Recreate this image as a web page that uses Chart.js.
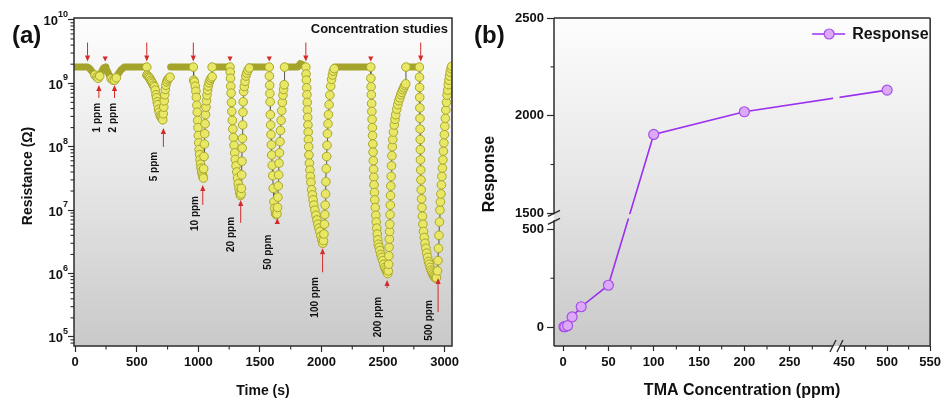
<!DOCTYPE html>
<html>
<head>
<meta charset="utf-8">
<script src="https://cdn.jsdelivr.net/npm/chart.js@4.4.1/dist/chart.umd.min.js"></script>
<style>
  body { margin: 0; background: #fff; width: 945px; height: 401px; overflow: hidden; position: relative; }
  canvas { position: absolute; top: 0; }
  #chartA { left: 0; }
  #chartB { left: 470px; }
</style>
</head>
<body>
<canvas id="chartA" width="470" height="401"></canvas>
<canvas id="chartB" width="475" height="401"></canvas>
<script>
// --- 1. DATA ---

// (a) baseline band, [time s, resistance ohm], null = break
const baseline = [
  [0, 1.8e9], [100, 1.8e9], [114, 1.74e9], [140, 1.5e9], [168, 1.29e9], [187, 1.2e9], [208, 1.45e9],
  [230, 1.74e9], [243, 1.8e9], [249, 1.74e9], [276, 1.35e9], [303, 1.12e9], [322, 1.12e9], [343, 1.35e9],
  [371, 1.62e9], [398, 1.8e9], [581, 1.8e9], null,
  [775, 1.8e9], [959, 1.8e9], null,
  [1112, 1.8e9], [1257, 1.8e9], null,
  [1414, 1.8e9], [1576, 1.8e9], null,
  [1700, 1.8e9], [1806, 1.8e9], [1828, 2.05e9], [1850, 1.95e9], [1873, 1.8e9], null,
  [2108, 1.8e9], [2400, 1.8e9], null,
  [2686, 1.8e9], [2795, 1.8e9]
];

// (a) exposure cycles
const dip1ppm = [[160, 1.35e9], [175, 1.25e9], [187, 1.2e9], [199, 1.3e9]];
const dip2ppm = [[292, 1.18e9], [306, 1.12e9], [320, 1.12e9], [334, 1.22e9]];
const dip5ppm = [
  [581, 1.8e9], [582, 1.35e9], [590, 1.3e9], [598, 1.25e9], [606, 1.2e9], [613, 1.12e9], [620, 1.06e9],
  [628, 1.0e9], [636, 9.3e8], [644, 8.8e8], [650, 7.8e8], [656, 6.6e8], [661, 5.9e8], [666, 5.1e8],
  [671, 4.6e8], [677, 3.9e8], [683, 3.5e8], [690, 3.1e8], [697, 2.95e8], [704, 2.8e8], [711, 2.65e8],
  [715, 3.3e8], [719, 4.2e8], [723, 5.3e8], [727, 6.6e8], [731, 8e8], [736, 9.3e8], [742, 1.05e9],
  [750, 1.13e9], [760, 1.2e9], [770, 1.25e9]
];
const dip10ppm = [
  [959, 1.8e9], [962, 1.12e9], [968, 1.05e9], [975, 9e8], [980, 7.5e8], [984, 6e8], [988, 4.5e8],
  [991, 3.5e8], [994, 2.6e8], [997, 2e8], [1000, 1.5e8], [1003, 1.15e8], [1006, 9e7], [1010, 7.5e7],
  [1014, 6.2e7], [1018, 5.3e7], [1022, 4.6e7], [1027, 4.1e7], [1032, 3.7e7], [1037, 3.4e7], [1041, 3.2e7],
  [1043, 4.5e7], [1046, 7e7], [1049, 1.1e8], [1052, 1.6e8], [1055, 2.3e8], [1058, 3.2e8], [1062, 4.2e8],
  [1066, 5.3e8], [1070, 6.5e8], [1075, 7.8e8], [1080, 9e8], [1087, 1.02e9], [1095, 1.12e9], [1103, 1.2e9],
  [1112, 1.27e9], [1112, 1.8e9]
];
const dip20ppm = [
  [1257, 1.8e9], [1259, 1.5e9], [1261, 1.2e9], [1263, 9e8], [1266, 7e8], [1269, 5e8], [1272, 3.6e8],
  [1276, 2.6e8], [1280, 1.9e8], [1285, 1.4e8], [1290, 1.05e8], [1295, 8e7], [1300, 6.3e7], [1306, 5e7],
  [1312, 4e7], [1318, 3.2e7], [1324, 2.6e7], [1330, 2.2e7], [1336, 1.9e7], [1342, 1.7e7], [1347, 1.8e7],
  [1350, 2.2e7], [1352, 3.6e7], [1354, 5.9e7], [1356, 9.5e7], [1358, 1.35e8], [1360, 2.2e8], [1362, 3.5e8],
  [1364, 5.1e8], [1368, 7.4e8], [1373, 8.9e8], [1379, 1.07e9], [1386, 1.3e9], [1393, 1.45e9], [1403, 1.6e9],
  [1414, 1.74e9]
];
const dip50ppm = [
  [1576, 1.8e9], [1577, 1.3e9], [1579, 9.3e8], [1581, 6.9e8], [1583, 5.1e8], [1585, 3.2e8], [1587, 2.2e8],
  [1590, 1.55e8], [1593, 1.07e8], [1596, 7.4e7], [1600, 5.1e7], [1604, 3.5e7], [1608, 2.2e7], [1614, 1.35e7],
  [1620, 1.07e7], [1626, 8.9e6], [1632, 8.5e6], [1638, 8.7e6], [1643, 1.1e7], [1646, 1.6e7], [1649, 2.4e7],
  [1652, 3.6e7], [1655, 5.5e7], [1659, 8e7], [1663, 1.2e8], [1667, 1.8e8], [1672, 2.6e8], [1677, 3.7e8],
  [1682, 5e8], [1687, 6.5e8], [1692, 8e8], [1697, 9.5e8], [1700, 1.8e9]
];
const dip100ppm = [
  [1873, 1.8e9], [1875, 1.4e9], [1877, 1.12e9], [1880, 8.5e8], [1882, 6.6e8], [1884, 5e8], [1886, 3.8e8],
  [1888, 2.9e8], [1890, 2.2e8], [1892, 1.7e8], [1894, 1.3e8], [1896, 1e8], [1898, 7.4e7], [1902, 5.5e7],
  [1906, 4.3e7], [1910, 3.4e7], [1914, 2.75e7], [1920, 2.1e7], [1926, 1.74e7], [1932, 1.45e7], [1938, 1.2e7],
  [1946, 1e7], [1955, 8.3e6], [1963, 7e6], [1971, 6e6], [1979, 5.2e6], [1987, 4.6e6], [1995, 3.9e6],
  [2003, 3.4e6], [2011, 3e6], [2016, 3.3e6], [2020, 4.2e6], [2024, 6e6], [2027, 8.5e6], [2030, 1.2e7],
  [2033, 1.8e7], [2036, 2.8e7], [2039, 4.5e7], [2042, 7e7], [2045, 1.05e8], [2049, 1.6e8], [2053, 2.3e8],
  [2057, 3.2e8], [2062, 4.6e8], [2068, 6.5e8], [2075, 9e8], [2082, 1.15e9], [2089, 1.35e9], [2096, 1.55e9],
  [2104, 1.7e9]
];
const dip200ppm = [
  [2400, 1.8e9], [2401, 1.2e9], [2403, 8.8e8], [2405, 6.6e8], [2407, 4.8e8], [2409, 3.6e8], [2411, 2.7e8],
  [2413, 2e8], [2415, 1.5e8], [2417, 1.1e8], [2419, 8.2e7], [2421, 6e7], [2423, 4.4e7], [2425, 3.3e7],
  [2427, 2.5e7], [2430, 1.9e7], [2433, 1.45e7], [2437, 1.1e7], [2441, 8.3e6], [2445, 6.5e6], [2449, 5.2e6],
  [2453, 4.2e6], [2457, 3.4e6], [2462, 2.9e6], [2468, 2.6e6], [2474, 2.3e6], [2482, 2e6], [2490, 1.8e6],
  [2498, 1.6e6], [2506, 1.4e6], [2514, 1.25e6], [2522, 1.15e6], [2530, 1.07e6], [2538, 1e6], [2542, 1.1e6],
  [2545, 1.4e6], [2547, 1.9e6], [2549, 2.6e6], [2551, 3.5e6], [2553, 4.6e6], [2555, 6e6], [2557, 8.5e6],
  [2559, 1.2e7], [2561, 1.7e7], [2563, 2.4e7], [2566, 3.4e7], [2569, 5e7], [2572, 7.2e7], [2575, 1e8],
  [2579, 1.3e8], [2585, 1.7e8], [2591, 2.2e8], [2597, 2.7e8], [2603, 3.2e8], [2611, 3.9e8], [2620, 4.6e8],
  [2628, 5.3e8], [2636, 5.9e8], [2644, 6.6e8], [2652, 7.2e8], [2660, 7.9e8], [2668, 8.5e8], [2676, 9.2e8],
  [2684, 9.8e8], [2686, 1.8e9]
];
const dip500ppm = [
  [2795, 1.8e9], [2796, 1.25e9], [2797, 8.6e8], [2798, 6e8], [2799, 4.1e8], [2800, 2.8e8], [2801, 1.9e8],
  [2802, 1.3e8], [2803, 9e7], [2804, 6.2e7], [2806, 4.3e7], [2808, 3e7], [2810, 2.1e7], [2813, 1.5e7],
  [2816, 1.1e7], [2820, 8e6], [2824, 6e6], [2829, 4.6e6], [2835, 3.7e6], [2841, 3e6], [2848, 2.5e6],
  [2855, 2.1e6], [2862, 1.8e6], [2869, 1.55e6], [2876, 1.4e6], [2883, 1.25e6], [2890, 1.13e6], [2897, 1.05e6],
  [2904, 9.8e5], [2911, 9.2e5], [2918, 8.8e5], [2926, 8.5e5], [2934, 8.6e5], [2942, 1.1e6], [2946, 1.6e6],
  [2950, 2.5e6], [2954, 4e6], [2958, 6.5e6], [2962, 1e7], [2966, 1.35e7], [2970, 1.8e7], [2974, 2.5e7],
  [2978, 3.4e7], [2982, 4.6e7], [2986, 6.2e7], [2990, 8.5e7], [2994, 1.15e8], [2998, 1.55e8], [3002, 2.1e8],
  [3006, 2.8e8], [3010, 3.8e8], [3015, 5e8], [3020, 6.5e8], [3025, 7.8e8], [3030, 9.5e8], [3035, 1.12e9],
  [3040, 1.3e9], [3046, 1.5e9], [3052, 1.7e9], [3058, 1.85e9]
];
const allDips = [dip1ppm, dip2ppm, dip5ppm, dip10ppm, dip20ppm, dip50ppm, dip100ppm, dip200ppm, dip500ppm];

// (a) axis ticks
const timeTicks = [0, 500, 1000, 1500, 2000, 2500, 3000];
const timeMinorTicks = [250, 750, 1250, 1750, 2250, 2750];
const decadeExponents = [5, 6, 7, 8, 9, 10];

// (a) annotations: gas-in (down) / gas-out (up) markers and concentration labels
const gasInTimes = [100, 243, 581, 959, 1257, 1576, 1873, 2400, 2806];
const gasInLong = [true, false, true, true, false, false, true, false, true];
const gasOutTimes = [192, 319, 716, 1036, 1344, 1641, 2009, 2533, 2947];
const gasOutTipRes = [9.4e8, 9.4e8, 1.98e8, 2.5e7, 1.45e7, 7.5e6, 2.5e6, 7.9e5, 8.5e5];
const gasOutLen = [13, 13, 19, 20, 23, 6, 24, 8, 34];
const ppmLabels = ['1 ppm', '2 ppm', '5 ppm', '10 ppm', '20 ppm', '50 ppm', '100 ppm', '200 ppm', '500 ppm'];
const ppmLabelTimes = [176, 311, 641, 973, 1271, 1568, 1946, 2460, 2879];
const ppmLabelTopRes = [4.9e8, 4.9e8, 8.3e7, 1.67e7, 7.8e6, 4.1e6, 8.8e5, 4.3e5, 3.8e5];

// (b) response vs TMA concentration
const concentrationPpm = [1, 2, 5, 10, 20, 50, 100, 200, 500];
const responseValues = [1.5, 1.7, 7, 52, 104, 214, 1904, 2020, 2131];
const concTicks = [0, 50, 100, 150, 200, 250, 450, 500, 550];
const concMinorTicks = [25, 75, 125, 175, 225, 275, 475, 525];
const respTicks = [0, 500, 1500, 2000, 2500];
const respMinorTicks = [250, 1750, 2250];

// --- 2. HELPERS ---
Chart.defaults.font.family = '"Liberation Sans", Arial, Helvetica, sans-serif';
Chart.defaults.color = '#111';
Chart.defaults.animation = false;

const FRAME = '#2b2b2b';
const RED = '#d42a2a';

// broken axes of panel (b): 300..450 ppm and 500..1500 removed
function mapConc(v) { return v <= 300 ? v : 310 + (v - 450) * 0.95; }
function mapResp(v) { return v <= 500 ? v : v - 918; }

function toXY(rows) {
  const out = [];
  let lastX = 0;
  rows.forEach(r => {
    if (r) { out.push({ x: r[0], y: r[1] }); lastX = r[0]; }
    else out.push({ x: lastX, y: null });
  });
  return out;
}

function plotGradient(ctx, a) {
  const g = ctx.createLinearGradient(0, a.top, 0, a.bottom);
  g.addColorStop(0, '#fdfdfd');
  g.addColorStop(0.5, '#e6e6e6');
  g.addColorStop(1, '#c9c9c9');
  return g;
}

const plotBackground = {
  id: 'plotBackground',
  beforeDraw(chart) {
    const { ctx, chartArea: a } = chart;
    ctx.save();
    ctx.fillStyle = plotGradient(ctx, a);
    ctx.fillRect(a.left, a.top, a.right - a.left, a.bottom - a.top);
    ctx.restore();
  }
};

function line(ctx, x1, y1, x2, y2) {
  ctx.beginPath(); ctx.moveTo(x1, y1); ctx.lineTo(x2, y2); ctx.stroke();
}

function verticalText(ctx, text, x, y, font, align) {
  ctx.save();
  ctx.translate(x, y);
  ctx.rotate(-Math.PI / 2);
  ctx.font = font;
  ctx.textAlign = align || 'center';
  ctx.textBaseline = 'middle';
  ctx.fillText(text, 0, 0);
  ctx.restore();
}

function drawArrow(ctx, x, tipY, len, dir) {
  // dir 1 = pointing down, -1 = pointing up
  const head = Math.min(6, len), half = 2.6;
  if (len > head) line(ctx, x, tipY - dir * len, x, tipY - dir * head);
  ctx.beginPath();
  ctx.moveTo(x, tipY);
  ctx.lineTo(x - half, tipY - dir * head);
  ctx.lineTo(x + half, tipY - dir * head);
  ctx.closePath();
  ctx.fill();
}

// --- 3. PANEL (a) ---
const traceRows = [];
allDips.forEach((d, i) => { if (i) traceRows.push(null); d.forEach(r => traceRows.push(r)); });

const panelADecor = {
  id: 'panelADecor',
  afterDatasetsDraw(chart) {
    const { ctx, scales: { x, y } } = chart;
    ctx.save();
    ctx.strokeStyle = RED; ctx.fillStyle = RED; ctx.lineWidth = 1;
    const tipIn = y.getPixelForValue(2.2e9);
    gasInTimes.forEach((t, i) => drawArrow(ctx, x.getPixelForValue(t), tipIn, gasInLong[i] ? 19 : 5, 1));
    gasOutTimes.forEach((t, i) => drawArrow(ctx, x.getPixelForValue(t), y.getPixelForValue(gasOutTipRes[i]), gasOutLen[i], -1));
    ctx.fillStyle = '#111';
    ppmLabels.forEach((txt, i) => verticalText(ctx, txt, x.getPixelForValue(ppmLabelTimes[i]), y.getPixelForValue(ppmLabelTopRes[i]), 'bold 10px "Liberation Sans", Arial, sans-serif', 'right'));
    ctx.restore();
  },
  afterDraw(chart) {
    const { ctx, chartArea: a, scales: { x, y } } = chart;
    ctx.save();
    ctx.strokeStyle = FRAME; ctx.lineWidth = 1.5;
    ctx.strokeRect(a.left, a.top, a.right - a.left, a.bottom - a.top);
    ctx.lineWidth = 1.1;
    timeMinorTicks.forEach(v => { const px = x.getPixelForValue(v); line(ctx, px, a.bottom, px, a.bottom + 3.5); });
    decadeExponents.concat([4]).forEach(e => {
      for (let m = 2; m <= 9; m++) {
        const v = m * Math.pow(10, e);
        if (v > y.min && v < y.max) { const py = y.getPixelForValue(v); line(ctx, a.left - 3.5, py, a.left, py); }
      }
    });
    // 10^n labels
    ctx.fillStyle = '#111';
    ctx.textBaseline = 'alphabetic';
    ctx.textAlign = 'right';
    decadeExponents.forEach(e => {
      const py = y.getPixelForValue(Math.pow(10, e));
      ctx.font = 'bold 9px "Liberation Sans", Arial, sans-serif';
      const w = ctx.measureText(String(e)).width;
      ctx.fillText(String(e), a.left - 6, py - 3);
      ctx.font = 'bold 13px "Liberation Sans", Arial, sans-serif';
      ctx.fillText('10', a.left - 6 - w, py + 5.5);
    });
    verticalText(ctx, 'Resistance (\u03a9)', 28, (a.top + a.bottom) / 2 - 6, 'bold 14px "Liberation Sans", Arial, sans-serif');
    ctx.font = 'bold 24px "Liberation Sans", Arial, sans-serif';
    ctx.textAlign = 'left';
    ctx.fillText('(a)', 12, 43);
    ctx.font = 'bold 13px "Liberation Sans", Arial, sans-serif';
    ctx.textAlign = 'right';
    ctx.textBaseline = 'middle';
    ctx.fillText('Concentration studies', a.right - 4, a.top + 11);
    ctx.restore();
  }
};

new Chart(document.getElementById('chartA'), {
  type: 'scatter',
  data: {
    datasets: [
      {
        label: 'Baseline', data: toXY(baseline), showLine: true, order: 2,
        borderColor: '#a4a32a', borderWidth: 7, borderCapStyle: 'round', borderJoinStyle: 'round',
        pointRadius: 0, spanGaps: false
      },
      {
        label: 'Resistance', data: toXY(traceRows), showLine: true, order: 1,
        borderColor: '#555', borderWidth: 1, spanGaps: false,
        pointRadius: 4.3, pointBackgroundColor: '#e8e866', pointBorderColor: '#a8a72c', pointBorderWidth: 1
      }
    ]
  },
  options: {
    responsive: false,
    layout: { padding: { top: 18, right: 18, left: 0, bottom: 0 } },
    plugins: { legend: { display: false }, tooltip: { enabled: false } },
    scales: {
      x: {
        type: 'linear', min: -10, max: 3060,
        afterBuildTicks: s => { s.ticks = timeTicks.map(v => ({ value: v })); },
        afterFit: s => { s.height = 55; },
        border: { display: false },
        grid: { drawOnChartArea: false, tickLength: 6, color: FRAME, tickWidth: 1.2 },
        ticks: { callback: (v, i) => String(timeTicks[i]), font: { size: 13, weight: 'bold' }, color: '#111', padding: 3, maxRotation: 0, autoSkip: false },
        title: { display: true, text: 'Time (s)', font: { size: 14, weight: 'bold' }, color: '#111', padding: { top: 0, bottom: 1 } }
      },
      y: {
        type: 'logarithmic', min: 7.2e4, max: 1.07e10,
        afterBuildTicks: s => { s.ticks = decadeExponents.map(e => ({ value: Math.pow(10, e), major: true })); },
        afterFit: s => { s.width = 74; },
        border: { display: false },
        grid: { drawOnChartArea: false, tickLength: 6, color: FRAME, tickWidth: 1.2 },
        ticks: { display: false }
      }
    }
  },
  plugins: [plotBackground, panelADecor]
});

// --- 4. PANEL (b) ---
const panelBDecor = {
  id: 'panelBDecor',
  afterDatasetsDraw(chart) {
    // cut the response line where it crosses the axis breaks
    const { ctx, chartArea: a, scales: { x, y } } = chart;
    ctx.save();
    ctx.fillStyle = plotGradient(ctx, a);
    const y1 = y.getPixelForValue(578), y2 = y.getPixelForValue(556);
    ctx.fillRect(a.left + 1, y1, a.right - a.left - 2, y2 - y1);
    const x1 = x.getPixelForValue(298), x2 = x.getPixelForValue(305);
    ctx.fillRect(x1, a.top + 1, x2 - x1, a.bottom - a.top - 2);
    ctx.restore();
  },
  afterDraw(chart) {
    const { ctx, chartArea: a, scales: { x, y } } = chart;
    ctx.save();
    ctx.strokeStyle = FRAME; ctx.lineWidth = 1.5;
    const yb = y.getPixelForValue(mapResp(1500));
    const xb = x.getPixelForValue(300);
    line(ctx, a.left, a.top, a.right, a.top);
    line(ctx, a.right, a.top, a.right, a.bottom);
    line(ctx, a.left, a.bottom, xb - 2, a.bottom);
    line(ctx, xb + 5, a.bottom, a.right, a.bottom);
    line(ctx, a.left, a.top, a.left, yb + 1);
    line(ctx, a.left, yb + 7, a.left, a.bottom);
    // break marks
    ctx.lineWidth = 1.3;
    [yb, yb + 8].forEach(cy => line(ctx, a.left - 6, cy + 3, a.left + 6, cy - 3));
    [xb - 2, xb + 5].forEach(cx => line(ctx, cx - 3, a.bottom + 6, cx + 3, a.bottom - 6));
    // minor ticks
    ctx.lineWidth = 1.1;
    concMinorTicks.forEach(v => { const px = x.getPixelForValue(mapConc(v)); line(ctx, px, a.bottom, px, a.bottom + 3.5); });
    respMinorTicks.forEach(v => { const py = y.getPixelForValue(mapResp(v)); line(ctx, a.left - 3.5, py, a.left, py); });
    // titles
    ctx.fillStyle = '#111';
    verticalText(ctx, 'Response', 20, (a.top + a.bottom) / 2 - 8, 'bold 16px "Liberation Sans", Arial, sans-serif');
    ctx.font = 'bold 24px "Liberation Sans", Arial, sans-serif';
    ctx.textAlign = 'left'; ctx.textBaseline = 'alphabetic';
    ctx.fillText('(b)', 4, 43);
    // legend
    const ly = a.top + 16, lx = a.right - 118;
    ctx.strokeStyle = '#9b30f0'; ctx.lineWidth = 1.6;
    line(ctx, lx, ly, lx + 33, ly);
    ctx.beginPath(); ctx.arc(lx + 17, ly, 5, 0, Math.PI * 2);
    ctx.fillStyle = '#dca8f8'; ctx.fill();
    ctx.strokeStyle = '#a64ee8'; ctx.lineWidth = 1.2; ctx.stroke();
    ctx.fillStyle = '#111';
    ctx.font = 'bold 16px "Liberation Sans", Arial, sans-serif';
    ctx.textBaseline = 'middle';
    ctx.fillText('Response', lx + 40, ly + 1);
    ctx.restore();
  }
};

new Chart(document.getElementById('chartB'), {
  type: 'scatter',
  data: {
    datasets: [{
      label: 'Response',
      data: concentrationPpm.map((c, i) => ({ x: mapConc(c), y: mapResp(responseValues[i]) })),
      showLine: true,
      borderColor: '#9b30f0', borderWidth: 1.6,
      pointRadius: 5, pointBackgroundColor: '#dca8f8', pointBorderColor: '#a64ee8', pointBorderWidth: 1.2
    }]
  },
  options: {
    responsive: false,
    layout: { padding: { top: 18, right: 10, left: 0, bottom: 0 } },
    plugins: { legend: { display: false }, tooltip: { enabled: false } },
    scales: {
      x: {
        type: 'linear', min: -10, max: 405,
        afterBuildTicks: s => { s.ticks = concTicks.map(v => ({ value: mapConc(v) })); },
        afterFit: s => { s.height = 55; },
        border: { display: false },
        grid: { drawOnChartArea: false, tickLength: 5, color: FRAME, tickWidth: 1.2 },
        ticks: { callback: (v, i) => String(concTicks[i]), font: { size: 13, weight: 'bold' }, color: '#111', padding: 4, maxRotation: 0, autoSkip: false },
        title: { display: true, text: 'TMA Concentration (ppm)', font: { size: 16, weight: 'bold' }, color: '#111', padding: { top: 0, bottom: 1 } }
      },
      y: {
        type: 'linear', min: -97, max: mapResp(2500),
        afterBuildTicks: s => { s.ticks = respTicks.map(v => ({ value: mapResp(v) })); },
        afterFit: s => { s.width = 84; },
        border: { display: false },
        grid: { drawOnChartArea: false, tickLength: 7, color: FRAME, tickWidth: 1.2 },
        ticks: { callback: (v, i) => String(respTicks[i]), font: { size: 13, weight: 'bold' }, color: '#111', padding: 3, autoSkip: false }
      }
    }
  },
  plugins: [plotBackground, panelBDecor]
});
</script>
</body>
</html>
